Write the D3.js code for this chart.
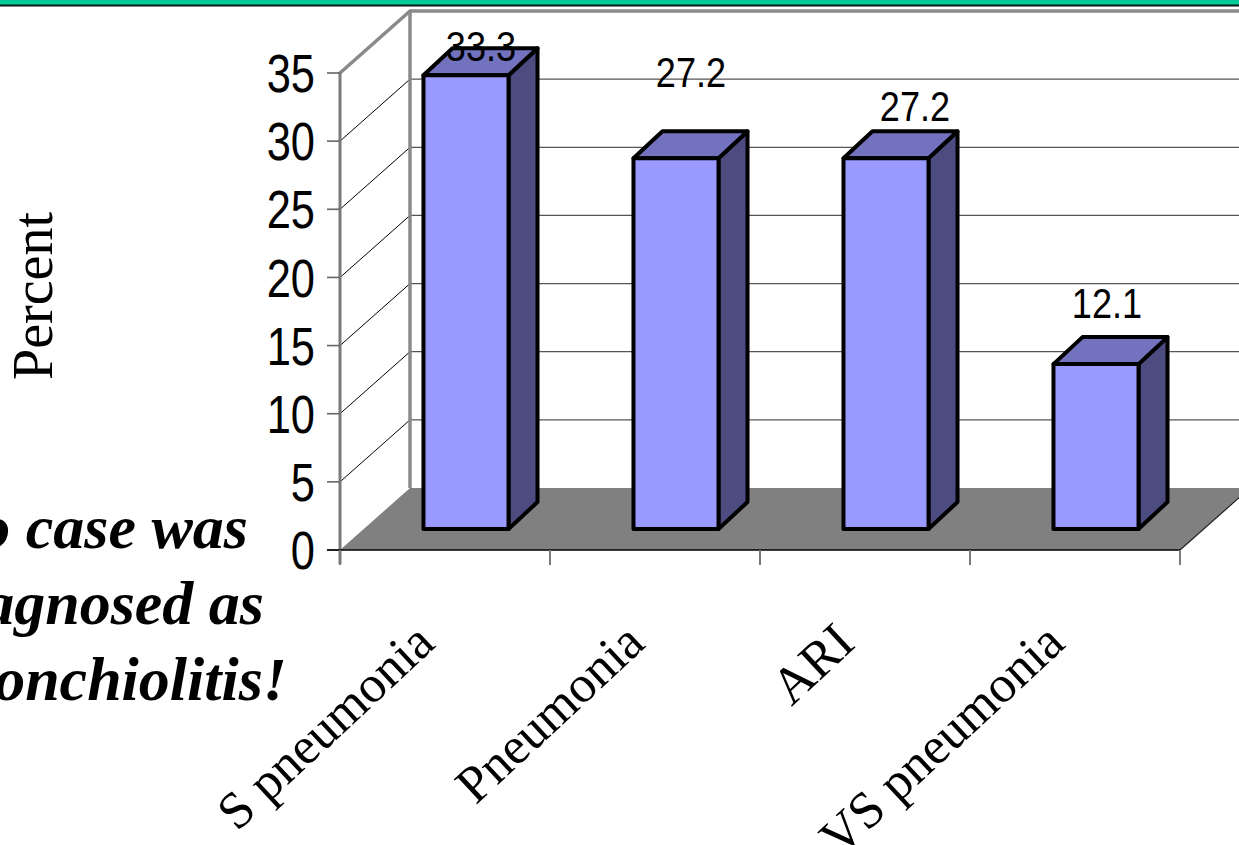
<!DOCTYPE html>
<html>
<head>
<meta charset="utf-8">
<script src="https://cdn.jsdelivr.net/npm/d3@7"></script>
<style>
  html, body { margin: 0; padding: 0; background: #fff; overflow: hidden; }
  svg { display: block; }
</style>
</head>
<body>
<svg id="chart" width="1239" height="845"></svg>
<script>
// Data
const categories = ["S pneumonia", "Pneumonia", "ARI", "VS pneumonia"];
const values = [33.3, 27.2, 27.2, 12.1];
const yTicks = [0, 5, 10, 15, 20, 25, 30, 35];
const yTitle = "Percent";
const noteLines = ["No case was", "diagnosed as", "bronchiolitis!"];

// Layout
const W = 1239, H = 845;
const left = 340, right = 1180, floorY = 550, topY = 73;
const depth = { dx: 70, dy: -62 };       // full depth of the 3D box
const barFront = { dx: 21, dy: -21 };    // bar front face offset into the box
const barDepth = { dx: 29, dy: -27 };    // bar thickness
const labelNudge = [[15, -14], [15, -71], [29, -37], [11, -46]];
const noteRight = [248, 264, 287];

const svg = d3.select("#chart");

const y = d3.scaleLinear().domain([0, 35]).range([floorY, topY]);
const x = d3.scaleBand().domain(categories).range([left, right])
  .paddingInner(0.595).paddingOuter(0.2975);
const step = x.step();
const bw = x.bandwidth();

// Header band
svg.append("rect").attr("x", 0).attr("y", 0).attr("width", W).attr("height", 5).attr("fill", "#00C896");
svg.append("line").attr("x1", 0).attr("x2", W).attr("y1", 5.5).attr("y2", 5.5)
  .attr("stroke", "#0a1a14").attr("stroke-width", 2);

const g = svg.append("g");

// Side wall gridlines (diagonal)
yTicks.filter(v => v > 0 && v < 35).forEach(v => {
  g.append("line")
    .attr("x1", left).attr("y1", y(v))
    .attr("x2", left + depth.dx).attr("y2", y(v) + depth.dy)
    .attr("stroke", "#000").attr("stroke-width", 1);
});

// Back wall gridlines
yTicks.filter(v => v > 0 && v < 35).forEach(v => {
  g.append("line")
    .attr("x1", left + depth.dx).attr("y1", y(v) + depth.dy)
    .attr("x2", W + 20).attr("y2", y(v) + depth.dy)
    .attr("stroke", "#555").attr("stroke-width", 1.3);
});

// Floor
g.append("polygon")
  .attr("points", [
    [left, floorY], [right, floorY],
    [right + depth.dx, floorY + depth.dy], [left + depth.dx, floorY + depth.dy]
  ].map(p => p.join(",")).join(" "))
  .attr("fill", "#808080");
g.append("line")
  .attr("x1", right).attr("y1", floorY)
  .attr("x2", right + depth.dx).attr("y2", floorY + depth.dy)
  .attr("stroke", "#222").attr("stroke-width", 1.2);

// Wall edges (thick grey)
const edge = "#8a8a8a";
g.append("line").attr("x1", left + depth.dx).attr("y1", y(0) + depth.dy)
  .attr("x2", left + depth.dx).attr("y2", y(35) + depth.dy)
  .attr("stroke", edge).attr("stroke-width", 3.5);
g.append("line").attr("x1", left + depth.dx).attr("y1", y(35) + depth.dy)
  .attr("x2", W + 20).attr("y2", y(35) + depth.dy)
  .attr("stroke", edge).attr("stroke-width", 3.5);
g.append("line").attr("x1", left).attr("y1", y(35))
  .attr("x2", left + depth.dx).attr("y2", y(35) + depth.dy)
  .attr("stroke", edge).attr("stroke-width", 3.5).attr("stroke-linecap", "round");

// Value axis line and ticks
g.append("line").attr("x1", left).attr("x2", left)
  .attr("y1", y(35)).attr("y2", floorY + 14)
  .attr("stroke", "#7a7a7a").attr("stroke-width", 3);
yTicks.forEach(v => {
  g.append("line").attr("x1", left - 13).attr("x2", left)
    .attr("y1", y(v)).attr("y2", y(v))
    .attr("stroke", "#666").attr("stroke-width", 1.6);
  g.append("text")
    .attr("transform", `translate(${left - 25},${y(v)}) scale(0.82,1)`)
    .attr("dy", "0.36em")
    .attr("text-anchor", "end")
    .attr("font-family", "Liberation Sans, Arial, sans-serif")
    .attr("font-size", 53)
    .attr("fill", "#000")
    .text(v);
});

// Category axis line and ticks
g.append("line").attr("x1", left - 13).attr("x2", right)
  .attr("y1", floorY).attr("y2", floorY)
  .attr("stroke", "#000").attr("stroke-width", 1.6);
const boundaries = categories.map(c => x(c) - step * x.paddingInner() / 2).concat([right]);
boundaries.forEach(bx => {
  g.append("line").attr("x1", bx).attr("x2", bx)
    .attr("y1", floorY).attr("y2", floorY + 15)
    .attr("stroke", "#7a7a7a").attr("stroke-width", 2);
});

// 3D bars
const bars = g.append("g").attr("stroke", "#000").attr("stroke-width", 4)
  .attr("stroke-linejoin", "round");
categories.forEach((c, i) => {
  const x0 = x(c) + barFront.dx;
  const x1 = x0 + bw;
  const yb = y(0) + barFront.dy;
  const yt = yb - (y(0) - y(values[i]));
  const dx = barDepth.dx, dy = barDepth.dy;
  // side face
  bars.append("polygon")
    .attr("points", [[x1, yb], [x1 + dx, yb + dy], [x1 + dx, yt + dy], [x1, yt]].map(p => p.join(",")).join(" "))
    .attr("fill", "#4C4C80");
  // top face
  bars.append("polygon")
    .attr("points", [[x0, yt], [x1, yt], [x1 + dx, yt + dy], [x0 + dx, yt + dy]].map(p => p.join(",")).join(" "))
    .attr("fill", "#7272BE");
  // front face
  bars.append("rect")
    .attr("x", x0).attr("y", yt).attr("width", bw).attr("height", yb - yt)
    .attr("fill", "#9999FF");
});

// Value labels
categories.forEach((c, i) => {
  const cx = x(c) + barFront.dx + bw / 2 + labelNudge[i][0];
  const yt = y(0) + barFront.dy - (y(0) - y(values[i]));
  g.append("text")
    .attr("transform", `translate(${cx},${yt + labelNudge[i][1]}) scale(0.84,1)`)
    .attr("text-anchor", "middle")
    .attr("font-family", "Liberation Sans, Arial, sans-serif")
    .attr("font-size", 43)
    .attr("fill", "#000")
    .text(values[i].toFixed(1));
});

// Category labels (rotated)
categories.forEach(c => {
  const cx = x(c) + bw / 2 - 8;
  g.append("text")
    .attr("transform", `translate(${cx},646) rotate(-43)`)
    .attr("text-anchor", "end")
    .attr("font-family", "Liberation Serif, Times New Roman, serif")
    .attr("font-size", 52)
    .attr("fill", "#000")
    .text(c);
});

// Axis title
svg.append("text")
  .attr("transform", "translate(52,296) rotate(-90)")
  .attr("text-anchor", "middle")
  .attr("font-family", "Liberation Serif, Times New Roman, serif")
  .attr("font-size", 56)
  .attr("fill", "#000")
  .text(yTitle);

// Note
const note = svg.append("text")
  .attr("font-family", "Liberation Serif, Times New Roman, serif")
  .attr("font-size", 62)
  .attr("font-weight", "bold")
  .attr("font-style", "italic")
  .attr("text-anchor", "end")
  .attr("fill", "#000");
noteLines.forEach((t, i) => {
  note.append("tspan").attr("x", noteRight[i]).attr("y", 548 + i * 76).text(t);
});
</script>
</body>
</html>
